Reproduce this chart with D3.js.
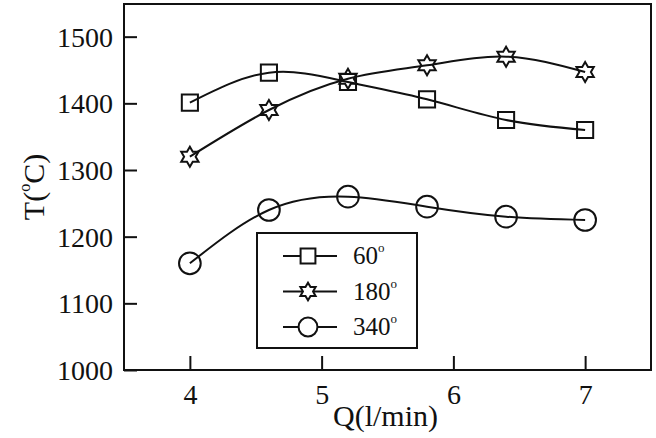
<!DOCTYPE html>
<html>
<head>
<meta charset="utf-8">
<script src="https://cdn.jsdelivr.net/npm/d3@7"></script>
<style>
  body { margin: 0; background: #fff; }
  text { font-family: "Liberation Serif", "Times New Roman", serif; fill: #111; }
</style>
</head>
<body>
<svg id="chart" width="656" height="438"></svg>
<script>
// flow rate Q (l/min)
const flowRates = [4, 4.6, 5.2, 5.8, 6.4, 7];
// temperature T (C) for each angle
const temp60 = [1401, 1446, 1432, 1406, 1375, 1360];
const temp180 = [1320, 1390, 1437, 1457, 1470, 1447];
const temp340 = [1160, 1240, 1260, 1245, 1230, 1225];
const seriesNames = ["60", "180", "340"];
const xTicks = [4, 5, 6, 7];
const yTicks = [1000, 1100, 1200, 1300, 1400, 1500];

const svg = d3.select("#chart");
const margin = { top: 4, right: 5, bottom: 68, left: 124 };
const width = 656 - margin.left - margin.right;
const height = 438 - margin.top - margin.bottom;

const x = d3.scaleLinear().domain([3.5, 7.5]).range([0, width]);
const y = d3.scaleLinear().domain([1000, 1549]).range([height, 0]);

const g = svg.append("g")
  .attr("transform", `translate(${margin.left},${margin.top})`);

// frame
g.append("rect")
  .attr("width", width)
  .attr("height", height)
  .attr("fill", "none")
  .attr("stroke", "#111")
  .attr("stroke-width", 2);

// axes, ticks pointing inward
const xAxis = g.append("g")
  .attr("transform", `translate(0,${height})`)
  .call(d3.axisBottom(x).tickValues(xTicks).tickSize(-14).tickPadding(14).tickFormat(d3.format("d")));
const yAxis = g.append("g")
  .call(d3.axisLeft(y).tickValues(yTicks).tickSize(-13).tickPadding(11).tickFormat(d3.format("d")));

[xAxis, yAxis].forEach(a => {
  a.attr("font-family", "'Liberation Serif', serif").attr("font-size", 28);
  a.select(".domain").remove();
  a.selectAll("line").attr("stroke", "#111").attr("stroke-width", 2);
  a.selectAll("text").attr("fill", "#111");
});
xAxis.selectAll("text").attr("dy", "0.71em");
yAxis.selectAll("text").attr("dy", "0.34em");

// axis titles
g.append("text")
  .attr("x", x(5.5) - 2)
  .attr("y", height + 56)
  .attr("text-anchor", "middle")
  .attr("font-size", 30)
  .text("Q(l/min)");

const yTitle = svg.append("text")
  .attr("transform", "translate(44,187) rotate(-90)")
  .attr("text-anchor", "middle")
  .attr("font-size", 30);
yTitle.append("tspan").text("T(");
yTitle.append("tspan").attr("font-size", 16).attr("dy", -14).text("o");
yTitle.append("tspan").attr("dy", 14).text("C)");

// six pointed star symbol
const hexStar = {
  draw(ctx, size) {
    const R = Math.sqrt(size) * 0.62;
    const r = R / Math.sqrt(3);
    for (let i = 0; i < 12; i++) {
      const a = -Math.PI / 2 + i * Math.PI / 6;
      const rad = i % 2 === 0 ? R : r;
      if (i === 0) ctx.moveTo(rad * Math.cos(a), rad * Math.sin(a));
      else ctx.lineTo(rad * Math.cos(a), rad * Math.sin(a));
    }
    ctx.closePath();
  }
};

const series = [
  { name: seriesNames[0], values: temp60, symbol: d3.symbolSquare, size: 260, legendSize: 220 },
  { name: seriesNames[1], values: temp180, symbol: hexStar, size: 260, legendSize: 200 },
  { name: seriesNames[2], values: temp340, symbol: d3.symbolCircle, size: 370, legendSize: 280 }
];

const line = d3.line()
  .x(d => x(d[0]))
  .y(d => y(d[1]))
  .curve(d3.curveNatural);

series.forEach(s => {
  const pts = flowRates.map((q, i) => [q, s.values[i]]);
  g.append("path")
    .datum(pts)
    .attr("fill", "none")
    .attr("stroke", "#111")
    .attr("stroke-width", 2)
    .attr("d", line);
  g.selectAll(null)
    .data(pts)
    .join("path")
    .attr("transform", d => `translate(${x(d[0])},${y(d[1])})`)
    .attr("d", d3.symbol().type(s.symbol).size(s.size))
    .attr("fill", "none")
    .attr("stroke", "#111")
    .attr("stroke-width", 2);
});

// legend
const legend = svg.append("g").attr("transform", "translate(257,233)");
legend.append("rect")
  .attr("width", 160)
  .attr("height", 115)
  .attr("fill", "#fff")
  .attr("stroke", "#111")
  .attr("stroke-width", 2);

series.forEach((s, i) => {
  const row = legend.append("g").attr("transform", `translate(0,${23 + i * 35.5})`);
  row.append("line")
    .attr("x1", 26).attr("x2", 80)
    .attr("stroke", "#111").attr("stroke-width", 2);
  row.append("path")
    .attr("transform", "translate(51,0)")
    .attr("d", d3.symbol().type(s.symbol).size(s.legendSize))
    .attr("fill", "#fff")
    .attr("stroke", "#111")
    .attr("stroke-width", 2);
  const t = row.append("text")
    .attr("x", 96)
    .attr("y", 8)
    .attr("font-size", 25);
  t.append("tspan").text(s.name);
  t.append("tspan").attr("font-size", 13).attr("dy", -12).text("o");
});
</script>
</body>
</html>
